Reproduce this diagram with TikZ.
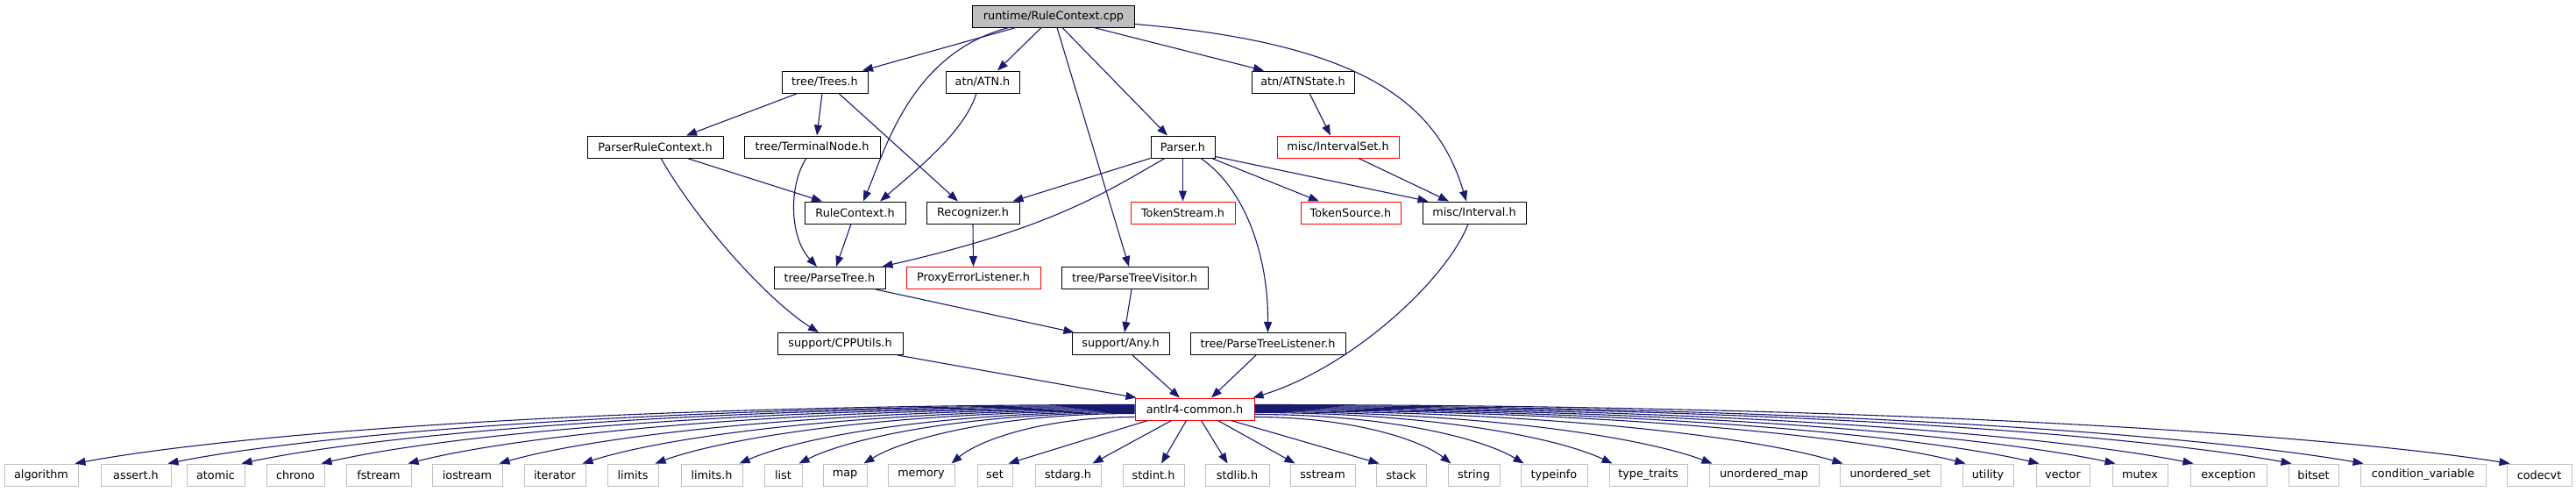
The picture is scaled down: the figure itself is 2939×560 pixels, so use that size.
\documentclass[tikz,border=0pt]{standalone}
\usepackage{fontspec}
\setmainfont{DejaVu Sans}
\usetikzlibrary{arrows.meta,calc}
\definecolor{edgec}{HTML}{191970}
\definecolor{greyc}{HTML}{BFBFBF}
\begin{document}
\begin{tikzpicture}[x=1pt,y=-1pt,
  box/.style={draw=black, line width=1pt, fill=white, minimum height=25pt, inner sep=0pt, font=\fontsize{12.8}{15}\selectfont, anchor=center},
  rootbox/.style={box, fill=greyc},
  redbox/.style={box, draw=red},
  sysbox/.style={box, draw=greyc},
  edge/.style={draw=edgec, line width=1.1pt, -{Triangle[length=12pt,width=9pt]}},
]
\useasboundingbox (0,0) rectangle (2939,560);

% nodes
\node[rootbox, minimum width=185pt] (root) at (1202,18.5) {runtime/RuleContext.cpp};
\node[box, minimum width=98pt] (trees) at (941,93.5) {tree/Trees.h};
\node[box, minimum width=84pt] (atn) at (1121,93.5) {atn/ATN.h};
\node[box, minimum width=117pt] (atnstate) at (1486.5,93.5) {atn/ATNState.h};
\node[box, minimum width=155pt] (prc) at (747.5,167.5) {ParserRuleContext.h};
\node[box, minimum width=155pt] (terminal) at (926.5,167.5) {tree/TerminalNode.h};
\node[box, minimum width=73pt] (parser) at (1349.5,167.5) {Parser.h};
\node[redbox, minimum width=139pt] (intervalset) at (1526.5,167.5) {misc/IntervalSet.h};
\node[box, minimum width=115pt] (rulectx) at (975.5,242.5) {RuleContext.h};
\node[box, minimum width=106pt] (recognizer) at (1110,242.5) {Recognizer.h};
\node[redbox, minimum width=119pt] (tokenstream) at (1349.5,242.5) {TokenStream.h};
\node[redbox, minimum width=114pt] (tokensource) at (1541,242.5) {TokenSource.h};
\node[box, minimum width=118pt] (interval) at (1682,242.5) {misc/Interval.h};
\node[box, minimum width=127pt] (parsetree) at (946.5,317) {tree/ParseTree.h};
\node[redbox, minimum width=153pt] (proxy) at (1110.5,317) {ProxyErrorListener.h};
\node[box, minimum width=167pt] (visitor) at (1294.5,317) {tree/ParseTreeVisitor.h};
\node[box, minimum width=143pt] (cpputils) at (958.5,392) {support/CPPUtils.h};
\node[box, minimum width=111pt] (any) at (1278.5,392) {support/Any.h};
\node[box, minimum width=177pt] (listener) at (1446.5,392) {tree/ParseTreeListener.h};
\node[redbox, minimum width=136pt] (antlr) at (1363,466.5) {antlr4-common.h};

\foreach \nm/\l/\r/\txt in {
  algorithm/5/89/algorithm, assert/115/195/assert.h, atomic/213/279/atomic,
  chrono/304/370/chrono, fstream/395/469/fstream, iostream/493/573/iostream,
  iterator/598/668/iterator, limits/693/751/limits, limitsh/777/847/limits.h,
  list/872/915/list, map/939/989/map, memory/1013/1089/memory, set/1115/1155/set,
  stdarg/1181/1256/stdarg.h, stdint/1281/1351/stdint.h, stdlib/1375/1448/stdlib.h,
  sstream/1472/1546/sstream, stack/1570/1627/stack, string/1652/1711/string,
  typeinfo/1735/1811/typeinfo, typetraits/1836/1925/type\_traits,
  umap/1950/2075/unordered\_map, uset/2099/2214/unordered\_set,
  utility/2239/2297/utility, vector/2323/2384/vector, mutex/2410/2473/mutex,
  exception/2499/2586/exception, bitset/2611/2668/bitset,
  condvar/2693/2836/condition\_variable, codecvt/2860/2934/codecvt}
  \node[sysbox, minimum width={(\r-\l)*1pt}] (\nm) at ({(\l+\r)/2},541.5) {\txt};

% upper edges
\draw[edge] ([xshift=-43pt]root.south) -- ([xshift=43pt]trees.north);
\draw[edge] ([xshift=-51pt]root.south) .. controls (1040,60) and (1010,170) .. ([xshift=9.5pt]rulectx.north);
\draw[edge] ([xshift=-14pt]root.south) -- ([xshift=17pt]atn.north);
\draw[edge] ([xshift=4pt]root.south) -- ([xshift=-6.5pt]visitor.north);
\draw[edge] ([xshift=10pt]root.south) -- ([xshift=-17.5pt]parser.north);
\draw[edge] ([xshift=46pt]root.south) -- ([xshift=-44.5pt]atnstate.north);
\draw[edge] ([yshift=-9pt]root.east) .. controls (1560,50) and (1640,120) .. ([xshift=-9pt]interval.north);

\draw[edge] ([xshift=-31pt]trees.south) -- ([xshift=35.5pt]prc.north);
\draw[edge] ([xshift=-3pt]trees.south) -- ([xshift=5.5pt]terminal.north);
\draw[edge] ([xshift=16pt]trees.south) -- ([xshift=-17pt]recognizer.north);
\draw[edge] ([xshift=-7pt]atn.south) .. controls (1100,150) and (1050,190) .. ([xshift=28.5pt]rulectx.north);
\draw[edge] ([xshift=7.5pt]atnstate.south) -- ([xshift=-8.5pt]intervalset.north);

\draw[edge] (parser.south west) -- ([xshift=-8pt]recognizer.north east);
\draw[edge] ([xshift=-20.5pt]parser.south) .. controls (1260,220) and (1200,260) .. ([xshift=-4pt]parsetree.north east);
\draw[edge] (parser.south) -- (tokenstream.north);
\draw[edge] ([xshift=20.5pt]parser.south) .. controls (1420,215) and (1447,290) .. (listener.north);
\draw[edge] ([xshift=-4pt]parser.south east) -- ([xshift=-36pt]tokensource.north);
\draw[edge] ([yshift=2pt]parser.south east) -- ([xshift=7pt]interval.north west);
\draw[edge] ([xshift=23.5pt]intervalset.south) -- ([xshift=-29pt]interval.north);

\draw[edge] ([xshift=36.5pt]prc.south) -- ([xshift=-37.5pt]rulectx.north);
\draw[edge] ([xshift=-6.5pt]terminal.south) .. controls (900,210) and (900,270) .. ([xshift=-14.5pt]parsetree.north);
\draw[edge] ([xshift=-4.5pt]rulectx.south) -- ([xshift=7.5pt]parsetree.north);
\draw[edge] (recognizer.south) -- (proxy.north);
\draw[edge] ([xshift=6.5pt]prc.south) .. controls (800,260) and (880,345) .. ([xshift=-24.5pt]cpputils.north);
\draw[edge] ([xshift=52.5pt]parsetree.south) -- ([xshift=3pt]any.north west);
\draw[edge] ([xshift=-3.5pt]visitor.south) -- ([xshift=4.5pt]any.north);
\draw[edge] ([xshift=65.5pt]cpputils.south) -- ([xshift=2pt]antlr.north west);
\draw[edge] ([xshift=13.5pt]any.south) -- ([xshift=-17pt]antlr.north);
\draw[edge] ([xshift=-13.5pt]listener.south) -- ([xshift=19pt]antlr.north);
\draw[edge] ([xshift=-7pt]interval.south) .. controls (1650,320) and (1540,420) .. ([xshift=-2pt]antlr.north east);

% bottom edges, left group
\foreach \nm/\dy in {algorithm/8, assert/9, atomic/10, chrono/11, fstream/12, iostream/13,
  iterator/14, limits/15, limitsh/16, list/17, map/18, memory/22}
  \draw[edge] let \p1=([yshift=-\dy pt]antlr.north west), \p2=([xshift=-4pt]\nm.north east) in
    (\p1) .. controls ({\x1+0.5*(\x2-\x1)},\y1) and ({\x2+0.15*(\x1-\x2)},{\y2+0.5*(\y1-\y2)}) .. (\p2);
% right group
\foreach \nm/\dy in {codecvt/8, condvar/9, bitset/10, exception/11, mutex/12, vector/13,
  utility/14, uset/15, umap/16, typetraits/17, typeinfo/19, string/22}
  \draw[edge] let \p1=([yshift=-\dy pt]antlr.north east), \p2=([xshift=4pt]\nm.north west) in
    (\p1) .. controls ({\x1+0.5*(\x2-\x1)},\y1) and ({\x2+0.15*(\x1-\x2)},{\y2+0.5*(\y1-\y2)}) .. (\p2);
% middle straight
\draw[edge] ([xshift=15pt]antlr.south west) -- ([xshift=-5pt]set.north east);
\draw[edge] ([xshift=42pt]antlr.south west) -- ([xshift=-10pt]stdarg.north east);
\draw[edge] ([xshift=59pt]antlr.south west) -- ([xshift=9pt]stdint.north);
\draw[edge] ([xshift=76pt]antlr.south west) -- ([xshift=-11pt]stdlib.north);
\draw[edge] ([xshift=95pt]antlr.south west) -- ([xshift=6pt]sstream.north west);
\draw[edge] ([xshift=110pt]antlr.south west) -- ([xshift=4pt]stack.north west);
\end{tikzpicture}
\end{document}
